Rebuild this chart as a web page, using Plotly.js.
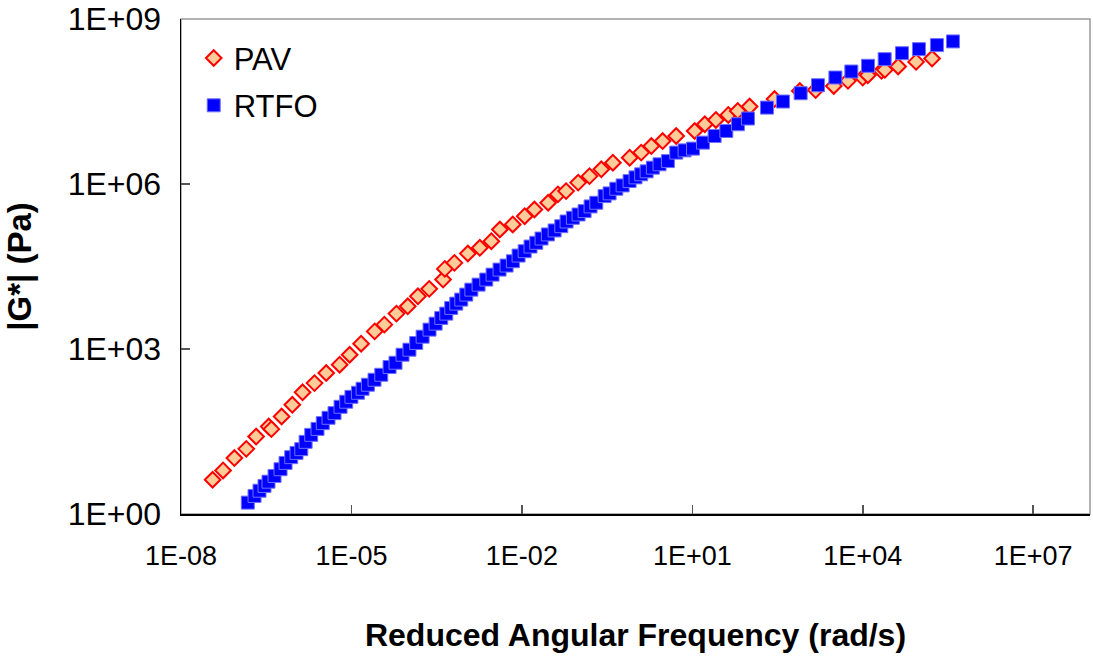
<!DOCTYPE html>
<html>
<head>
<meta charset="utf-8">
<script src="https://cdn.plot.ly/plotly-3.0.1.min.js"></script>
<style>html,body{margin:0;padding:0;background:#fff;}#chart{width:1093px;height:658px;}</style>
</head>
<body>
<div id="chart"></div>
<script>
// PAV: reduced angular frequency (rad/s) and |G*| (Pa)
const pavFreq = [3.6e-8, 5.5e-8, 8.7e-8, 1.41e-7, 2.1e-7, 3.5e-7, 3.9e-7, 5.9e-7, 9.1e-7, 1.38e-6,
  2.24e-6, 3.6e-6, 6.2e-6, 9.3e-6, 1.48e-5, 2.57e-5, 3.8e-5, 6.2e-5, 9.8e-5, 1.48e-4,
  2.34e-4, 4.1e-4, 4.4e-4, 6.5e-4, 1.12e-3, 1.82e-3, 2.9e-3, 4.1e-3, 6.9e-3, 1.12e-2,
  1.66e-2, 2.9e-2, 4.3e-2, 6.0e-2, 9.8e-2, 0.155, 0.25, 0.40, 0.79, 1.26,
  1.9, 3.0, 5.2, 11, 16.6, 26, 43, 63, 102, 280,
  780, 1480, 3090, 5500, 1.0e4, 1.23e4, 2.14e4, 2.45e4, 4.2e4, 8.7e4, 1.66e5];
const pavG = [4.2, 6.2, 10.4, 15.3, 25.6, 38.9, 34.9, 59.2, 96.6, 163,
  240, 366, 518, 787, 1250, 2090, 2770, 4400, 5970, 9080,
  12400, 18300, 28600, 36800, 54500, 69200, 91200, 149000, 184000, 260000,
  344000, 456000, 647000, 743000, 1.06e6, 1.39e6, 1.85e6, 2.44e6, 3.01e6, 3.72e6,
  4.9e6, 6.04e6, 7.45e6, 9.2e6, 1.22e7, 1.46e7, 1.8e7, 2.13e7, 2.56e7, 3.5e7,
  4.9e7, 5.1e7, 6.07e7, 7.5e7, 8.6e7, 9.5e7, 1.14e8, 1.19e8, 1.37e8, 1.66e8, 1.91e8];

// RTFO: reduced angular frequency (rad/s) and |G*| (Pa)
const rtfoFreq = [1.50e-7, 1.97e-7, 2.41e-7, 2.95e-7, 3.47e-7, 4.43e-7, 5.65e-7, 6.92e-7, 8.71e-7, 1.08e-6,
  1.31e-6, 1.56e-6, 1.96e-6, 2.53e-6, 3.13e-6, 3.95e-6, 5.04e-6, 6.43e-6, 8.09e-6, 1.00e-5,
  1.30e-5, 1.57e-5, 1.95e-5, 2.55e-5, 3.35e-5, 4.69e-5, 5.97e-5, 7.94e-5, 1.05e-4, 1.38e-4,
  1.79e-4, 2.37e-4, 3.03e-4, 3.81e-4, 4.67e-4, 5.71e-4, 7.00e-4, 8.57e-4, 1.05e-3, 1.29e-3,
  1.73e-3, 2.36e-3, 3.05e-3, 4.05e-3, 5.38e-3, 6.95e-3, 8.75e-3, 1.12e-2, 1.42e-2, 1.79e-2,
  2.22e-2, 2.87e-2, 3.77e-2, 4.94e-2, 6.12e-2, 7.91e-2, 9.95e-2, 0.127, 0.162, 0.204,
  0.286, 0.350, 0.459, 0.593, 0.787, 1.00, 1.26, 1.57, 2.02, 2.65,
  3.72, 5.22, 7.31, 10.3, 15.4, 24.7, 39.7, 63.5, 95.3, 206,
  394, 807, 1630, 3300, 6300, 12400, 24300, 49000, 97500, 202000, 387000];
const rtfoG = [1.61, 2.13, 2.65, 3.24, 3.87, 4.92, 6.52, 8.49, 10.8, 12.9,
  15.1, 20.5, 27.5, 35.3, 44.9, 56.1, 68.2, 88.9, 110, 135,
  160, 189, 224, 276, 340, 470, 562, 787, 971, 1285,
  1675, 2250, 2890, 3670, 4400, 5580, 6680, 7910, 9750, 12000,
  14800, 18300, 22500, 27800, 32900, 39400, 50000, 60000, 72900, 85300,
  102000, 121000, 143000, 171000, 208000, 243000, 279000, 321000, 391000, 456000,
  603000, 675000, 820000, 942000, 1.13e6, 1.32e6, 1.50e6, 1.70e6, 1.98e6, 2.28e6,
  2.61e6, 3.72e6, 4.09e6, 4.40e6, 5.65e6, 7.45e6, 9.20e6, 1.22e7, 1.55e7, 2.45e7,
  3.16e7, 4.47e7, 6.25e7, 8.63e7, 1.11e8, 1.41e8, 1.86e8, 2.39e8, 2.83e8, 3.35e8, 3.91e8];

const xTickVals = [1e-8, 1e-5, 1e-2, 1e1, 1e4, 1e7];
const xTickText = ['1E-08', '1E-05', '1E-02', '1E+01', '1E+04', '1E+07'];
const yTickVals = [1, 1e3, 1e6, 1e9];
const yTickText = ['1E+00', '1E+03', '1E+06', '1E+09'];

const FONT = 'Liberation Sans, Arial, sans-serif';

const traces = [
  {
    x: pavFreq, y: pavG, name: 'PAV', type: 'scatter', mode: 'markers',
    legendgroup: 'a',
    marker: {symbol: 'diamond', size: 12, color: '#FFCC99', line: {color: '#FF0000', width: 2}}
  },
  {
    x: rtfoFreq, y: rtfoG, name: 'RTFO', type: 'scatter', mode: 'markers',
    legendgroup: 'b',
    marker: {symbol: 'square', size: 13, color: '#0000FF', line: {color: '#7070FF', width: 1}}
  }
];

const layout = {
  width: 1093, height: 658,
  margin: {l: 181, r: 3, t: 19, b: 144},
  paper_bgcolor: '#fff', plot_bgcolor: '#fff',
  font: {family: FONT, color: '#000'},
  showlegend: true,
  legend: {
    x: 0.014, y: 0.975, xanchor: 'left', yanchor: 'top',
    bgcolor: 'rgba(0,0,0,0)', borderwidth: 0,
    font: {size: 31, family: FONT, color: '#000'},
    tracegroupgap: 4, itemwidth: 30
  },
  xaxis: {
    type: 'log', range: [-8, 8],
    tickmode: 'array', tickvals: xTickVals, ticktext: xTickText,
    ticks: 'inside', ticklen: 9, tickwidth: 1.5, tickcolor: '#555',
    showline: true, linecolor: '#000', linewidth: 1.5,
    showgrid: false, zeroline: false,
    tickfont: {size: 27, family: FONT, color: '#000'},
    ticklabelstandoff: 17,
    automargin: false,
    title: {text: 'Reduced Angular Frequency (rad/s)', font: {size: 32, family: FONT, color: '#000', weight: 'bold'}, standoff: 53}
  },
  yaxis: {
    type: 'log', range: [0, 9],
    tickmode: 'array', tickvals: yTickVals, ticktext: yTickText,
    ticks: 'inside', ticklen: 9, tickwidth: 1.5, tickcolor: '#555',
    showline: true, linecolor: '#000', linewidth: 1.5,
    showgrid: false, zeroline: false,
    tickfont: {size: 32, family: FONT, color: '#000'},
    ticklabelstandoff: 12,
    automargin: false,
    title: {text: '|G*| (Pa)', font: {size: 33, family: FONT, color: '#000', weight: 'bold'}, standoff: 26}
  },
  shapes: [
    {type: 'rect', xref: 'paper', yref: 'paper', x0: 0, x1: 1, y0: 0, y1: 1,
     line: {color: '#999', width: 1.5}, layer: 'below'}
  ]
};

Plotly.newPlot('chart', traces, layout, {displayModeBar: false, staticPlot: true});
</script>
</body>
</html>
